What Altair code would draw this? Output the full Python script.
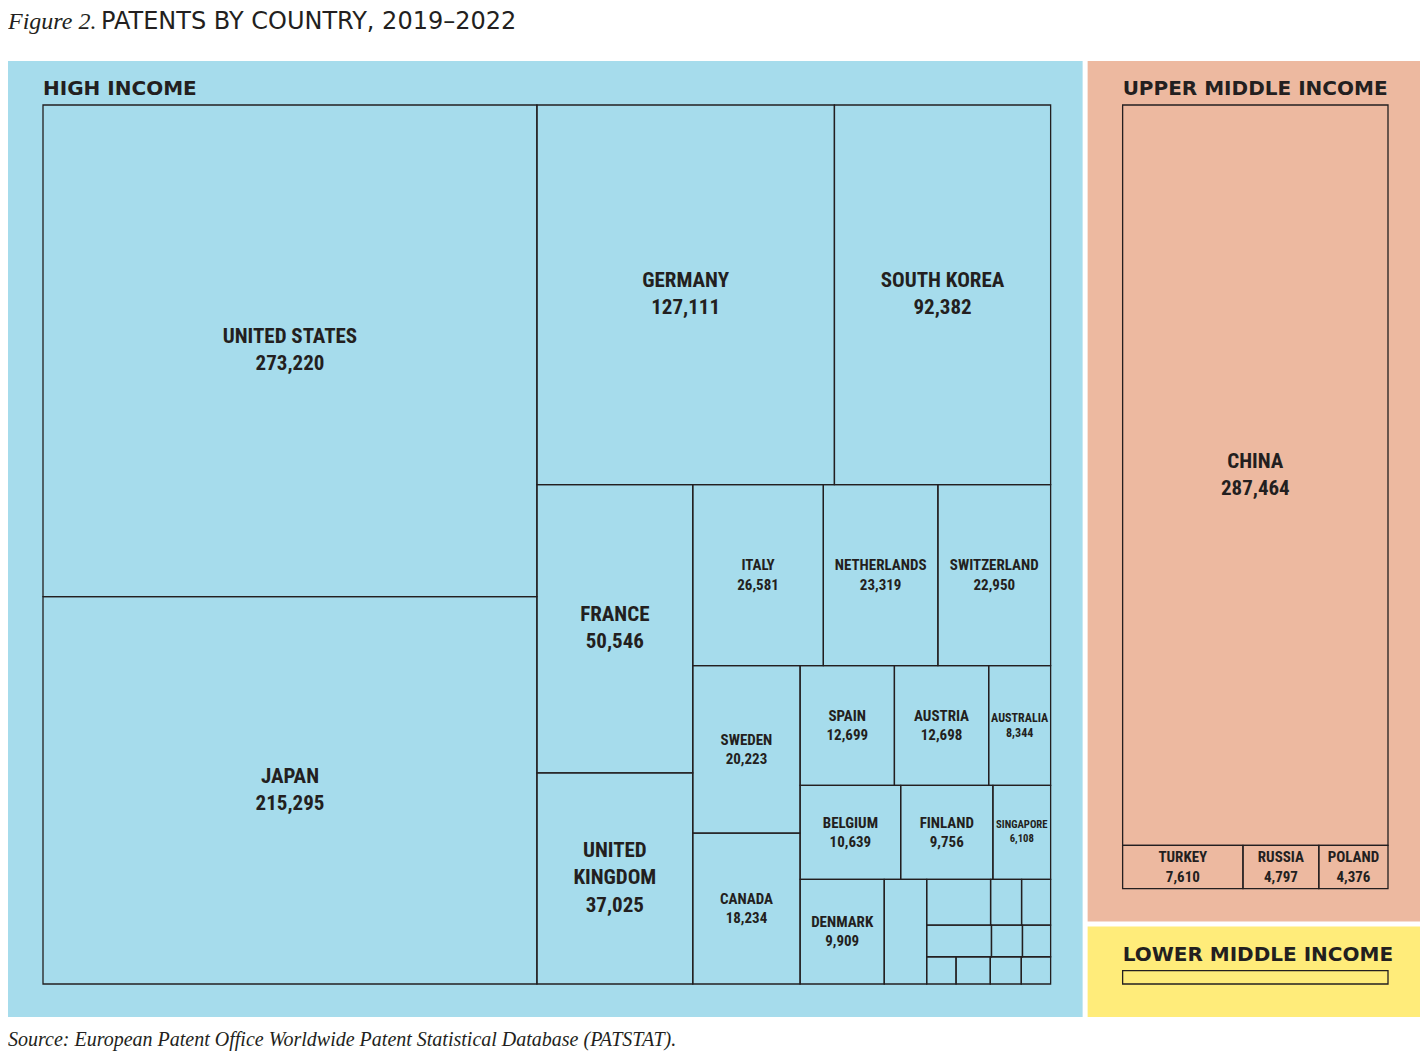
import altair as alt
import pandas as pd

# ---------------- data ----------------
group_names = ["HIGH INCOME", "UPPER MIDDLE INCOME", "LOWER MIDDLE INCOME"]
group_colors = ["#a6dcec", "#edb9a0", "#ffec7a"]

high_countries = ["United States", "Japan", "Germany", "South Korea", "France",
                  "United Kingdom", "Italy", "Netherlands", "Switzerland", "Sweden",
                  "Canada", "Spain", "Austria", "Australia", "Belgium", "Finland",
                  "Singapore", "Denmark"]
high_values = [273220, 215295, 127111, 92382, 50546, 37025, 26581, 23319, 22950,
               20223, 18234, 12699, 12698, 8344, 10639, 9756, 6108, 9909]
# small unlabeled high-income countries (estimated from their cell areas)
high_other_values = [5000, 3300, 1600, 1500, 2300, 1100, 1000, 900, 1050, 950, 900]

upper_countries = ["China", "Turkey", "Russia", "Poland"]
upper_values = [287464, 7610, 4797, 4376]

# lower-middle income: one thin unlabeled cell (estimated)
lower_other_values = [4000]

title_prefix = "Figure 2."
title_text = "PATENTS BY COUNTRY, 2019\u20132022"
source_text = "Source: European Patent Office Worldwide Patent Statistical Database (PATSTAT)."

# ---------------- value lookup ----------------
values = {}
labels = {}
for n, v in zip(high_countries, high_values):
    values[n] = v; labels[n] = True
hi_o = []
for i, v in enumerate(high_other_values):
    k = f"hi_o{i}"; values[k] = v; labels[k] = False; hi_o.append(k)
for n, v in zip(upper_countries, upper_values):
    values[n] = v; labels[n] = True
lo_o = []
for i, v in enumerate(lower_other_values):
    k = f"lo_o{i}"; values[k] = v; labels[k] = False; lo_o.append(k)

# nesting of the treemap (row = side by side, col = stacked)
high_tree = ("row", [
    ("col", ["United States", "Japan"]),
    ("col", [
        ("row", ["Germany", "South Korea"]),
        ("row", [
            ("col", ["France", "United Kingdom"]),
            ("col", [
                ("row", ["Italy", "Netherlands", "Switzerland"]),
                ("row", [
                    ("col", ["Sweden", "Canada"]),
                    ("col", [
                        ("row", ["Spain", "Austria", "Australia"]),
                        ("row", ["Belgium", "Finland", "Singapore"]),
                        ("row", ["Denmark", hi_o[0], ("col", [
                            ("row", hi_o[1:4]), ("row", hi_o[4:7]), ("row", hi_o[7:11])])]),
                    ]),
                ]),
            ]),
        ]),
    ]),
])
upper_tree = ("col", ["China", ("row", ["Turkey", "Russia", "Poland"])])
lower_tree = ("row", lo_o)


def total(node):
    if isinstance(node, str):
        return values[node]
    return sum(total(c) for c in node[1])


def layout(node, x0, y0, x1, y1, out):
    if isinstance(node, str):
        out.append((node, x0, y0, x1, y1))
        return
    kind, kids = node
    T = total(node)
    pos = x0 if kind == "row" else y0
    for c in kids:
        f = total(c) / T
        if kind == "row":
            w = (x1 - x0) * f
            layout(c, pos, y0, pos + w, y1, out)
            pos += w
        else:
            h = (y1 - y0) * f
            layout(c, x0, pos, x1, pos + h, out)
            pos += h


# ---------------- panel layout ----------------
W, H = 1412, 1046
PX0, PX1, PY0, PY1 = 0, W, 53, 1009
GAP = 5
PAD_L, PAD_R, PAD_T, PAD_B = 35, 32, 44, 33

T_high, T_up, T_low = total(high_tree), total(upper_tree), total(lower_tree)
hw = (PX1 - PX0 - GAP) * T_high / (T_high + T_up + T_low)
high_panel = (PX0, PY0, PX0 + hw, PY1)
high_inner = (PX0 + PAD_L, PY0 + PAD_T, PX0 + hw - PAD_R, PY1 - PAD_B)
k_scale = (high_inner[2] - high_inner[0]) * (high_inner[3] - high_inner[1]) / T_high
rx0 = PX0 + hw + GAP
inner_w_r = PX1 - rx0 - PAD_L - PAD_R
low_h = PAD_T + T_low * k_scale / inner_w_r + PAD_B
low_panel = (rx0, PY1 - low_h, PX1, PY1)
up_panel = (rx0, PY0, PX1, PY1 - low_h - GAP)

panels = [high_panel, up_panel, low_panel]
trees = [high_tree, upper_tree, lower_tree]

panel_rows, cell_rows, label_rows, header_rows = [], [], [], []

# approximate advance widths (em) of a narrow bold sans, used to fit labels
CW = {"A": .59, "B": .59, "C": .59, "D": .59, "E": .55, "F": .50, "G": .64,
      "H": .59, "I": .23, "K": .59, "L": .50, "M": .68, "N": .59, "O": .64,
      "P": .55, "R": .59, "S": .55, "T": .50, "U": .59, "W": .77, "Y": .55,
      ",": .23, " ": .23, ".": .23}


def est(s):
    return sum(CW.get(ch, .46) for ch in s)


for gname, color, p, tree in zip(group_names, group_colors, panels, trees):
    panel_rows.append(dict(x=p[0], x2=p[2], y=p[1], y2=p[3], color=color))
    ix0, iy0, ix1, iy1 = p[0] + PAD_L, p[1] + PAD_T, p[2] - PAD_R, p[3] - PAD_B
    header_rows.append(dict(x=ix0, y=p[1] + 34, text=gname))
    out = []
    layout(tree, ix0, iy0, ix1, iy1, out)
    for key, x0, y0, x1, y1 in out:
        cell_rows.append(dict(x=x0, x2=x1, y=y0, y2=y1))
        if not labels[key]:
            continue
        w, h = x1 - x0, y1 - y0
        base = 21 if (w >= 140 and h >= 140) else 15
        name = key.upper()
        lines = [name]
        if est(name) * base > w - 10 and " " in name:
            lines = name.split(" ")
        lines.append(f"{values[key]:,}")
        widest = max(est(l) for l in lines)
        fs = min(base, (w - 5) / widest, (h - 4) / (len(lines) * 1.3))
        lh = fs * 1.3
        cx, cy = (x0 + x1) / 2, (y0 + y1) / 2
        for i, l in enumerate(lines):
            label_rows.append(dict(x=cx, y=cy + (i - (len(lines) - 1) / 2) * lh,
                                   text=l, size=fs))

panels_df = pd.DataFrame(panel_rows)
cells_df = pd.DataFrame(cell_rows)
labels_df = pd.DataFrame(label_rows)
headers_df = pd.DataFrame(header_rows)
title1_df = pd.DataFrame([dict(x=0, y=21, text=title_prefix)])
title2_df = pd.DataFrame([dict(x=93, y=21, text=title_text)])
source_df = pd.DataFrame([dict(x=0, y=1038, text=source_text)])

xs = alt.Scale(domain=[0, W], range=[0, W], nice=False, zero=False)
ys = alt.Scale(domain=[0, H], range=[0, H], nice=False, zero=False)
X = alt.X("x:Q", scale=xs, axis=None)
Y = alt.Y("y:Q", scale=ys, axis=None)

INK = "#231f20"
LABEL_FONT = "'Liberation Sans Narrow', 'Roboto Condensed', 'DejaVu Sans Condensed', Roboto, sans-serif"

panel_layer = alt.Chart(panels_df).mark_rect(strokeWidth=0).encode(
    x=X, x2="x2:Q", y=Y, y2="y2:Q", color=alt.Color("color:N", scale=None))

cell_layer = alt.Chart(cells_df).mark_rect(
    fillOpacity=0, stroke=INK, strokeWidth=1.3).encode(
    x=X, x2="x2:Q", y=Y, y2="y2:Q")

label_layer = alt.Chart(labels_df).mark_text(
    font=LABEL_FONT, fontWeight="bold", color=INK, align="center", baseline="middle").encode(
    x=X, y=Y, text="text:N", size=alt.Size("size:Q", scale=None))

header_layer = alt.Chart(headers_df).mark_text(
    font="DejaVu Sans", fontWeight="bold", fontSize=20, color=INK,
    align="left", baseline="alphabetic").encode(x=X, y=Y, text="text:N")

title1_layer = alt.Chart(title1_df).mark_text(
    font="Liberation Serif", fontStyle="italic", fontSize=24, color=INK,
    align="left", baseline="alphabetic").encode(x=X, y=Y, text="text:N")

title2_layer = alt.Chart(title2_df).mark_text(
    font="DejaVu Sans", fontWeight="normal", fontSize=24, color=INK,
    align="left", baseline="alphabetic").encode(x=X, y=Y, text="text:N")

source_layer = alt.Chart(source_df).mark_text(
    font="Liberation Serif", fontStyle="italic", fontSize=20, color=INK,
    align="left", baseline="alphabetic").encode(x=X, y=Y, text="text:N")

chart = alt.layer(
    panel_layer, cell_layer, label_layer, header_layer,
    title1_layer, title2_layer, source_layer
).properties(
    width=W, height=H, padding=0,
    autosize=alt.AutoSizeParams(type="none")
).configure_view(stroke=None)

chart.save("out.html", embed_options={"renderer": "svg", "actions": False})
